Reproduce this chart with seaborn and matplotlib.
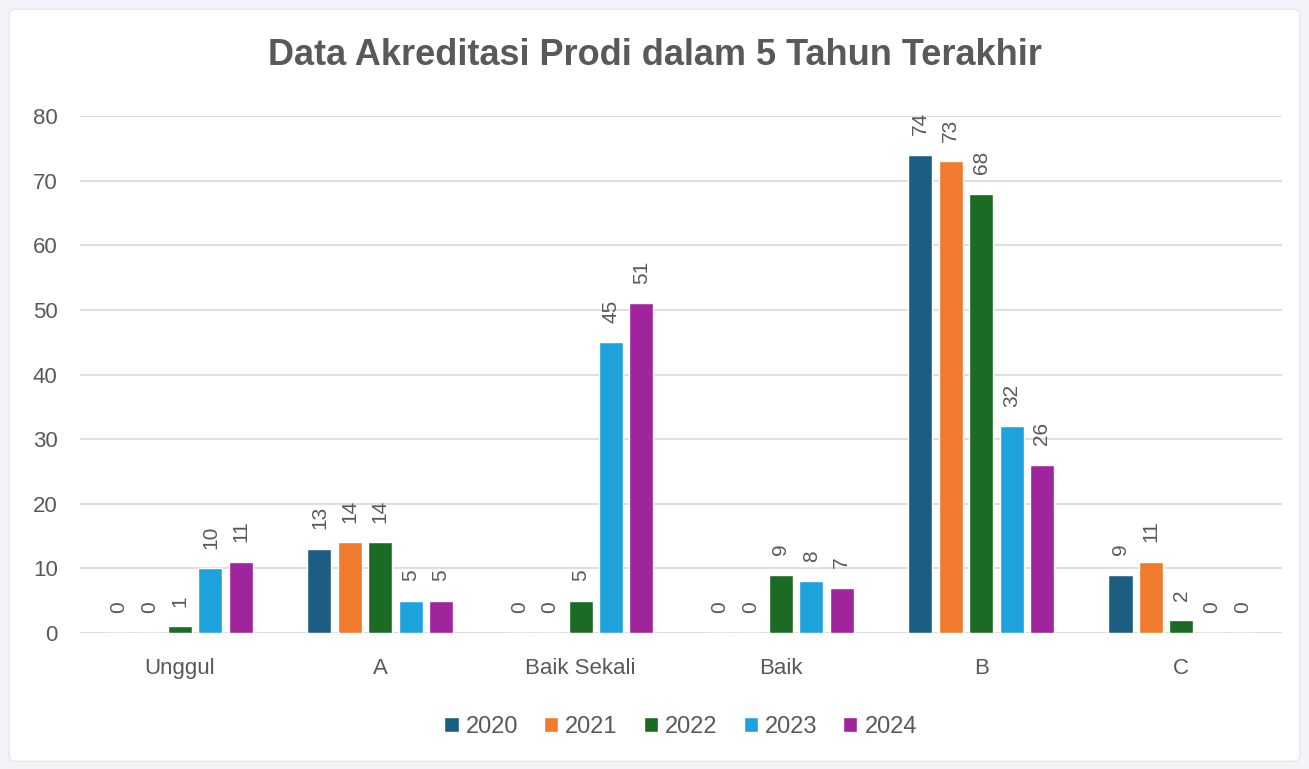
import numpy as np
import pandas as pd
import matplotlib
matplotlib.use("Agg")
import matplotlib.pyplot as plt
from matplotlib.patches import FancyBboxPatch
import seaborn as sns

# data
categories = ["Unggul", "A", "Baik Sekali", "Baik", "B", "C"]
years = ["2020", "2021", "2022", "2023", "2024"]
v2020 = [0, 13, 0, 0, 74, 9]
v2021 = [0, 14, 0, 0, 73, 11]
v2022 = [1, 14, 5, 9, 68, 2]
v2023 = [10, 5, 45, 8, 32, 0]
v2024 = [11, 5, 51, 7, 26, 0]
colors = ["#1b5e82", "#f07a2d", "#1c6b24", "#1ea2dc", "#a0249c"]

series = [v2020, v2021, v2022, v2023, v2024]
rows = []
for y, vals in zip(years, series):
    for c, v in zip(categories, vals):
        rows.append({"Kategori": c, "Tahun": y, "Jumlah": v})
df = pd.DataFrame(rows)

sns.set_theme(style="whitegrid")
plt.rcParams["font.family"] = ["Liberation Sans", "DejaVu Sans"]

fig = plt.figure(figsize=(13.09, 7.69), dpi=100)
fig.patch.set_facecolor("#f3f4f8")
panel = FancyBboxPatch((0.007, 0.01), 0.986, 0.978, boxstyle="round,pad=0,rounding_size=0.006",
                       transform=fig.transFigure, facecolor="white", edgecolor="#e6e7ec",
                       linewidth=1, zorder=-10)
fig.patches.append(panel)

ax = fig.add_axes([0.061, 0.177, 0.918, 0.672])
ax.set_facecolor("none")
sns.barplot(data=df, x="Kategori", y="Jumlah", hue="Tahun", order=categories,
            hue_order=years, palette=colors, width=0.76, gap=0.21,
            saturation=1, ax=ax, legend=True)

for cont in ax.containers:
    ax.bar_label(cont, rotation=90, padding=14, fontsize=15, color="#595959")

ax.set_ylim(0, 80)
ax.set_yticks(range(0, 81, 10))
ax.set_xlim(-0.5, 5.5)
ax.set_xlabel("")
ax.set_ylabel("")
ax.grid(axis="y", color="#d9d9d9", linewidth=1.2)
ax.grid(axis="x", visible=False)
for s in ax.spines.values():
    s.set_visible(False)
ax.tick_params(axis="both", labelsize=16, colors="#595959", length=0)
ax.tick_params(axis="y", pad=16)
ax.tick_params(axis="x", pad=18)

leg = ax.legend(loc="upper center", bbox_to_anchor=(0.5, -0.12), ncol=5, frameon=False,
                fontsize=17, handlelength=0.6, handleheight=0.6, handletextpad=0.3,
                columnspacing=1.1)
for t in leg.get_texts():
    t.set_color("#595959")

fig.text(0.5, 0.928, "Data Akreditasi Prodi dalam 5 Tahun Terakhir", ha="center", va="center",
         fontsize=26, fontweight="bold", color="#595959",
         family=["Liberation Sans Narrow", "Liberation Sans", "DejaVu Sans"])

fig.savefig("out.png", dpi=100, facecolor=fig.get_facecolor())
